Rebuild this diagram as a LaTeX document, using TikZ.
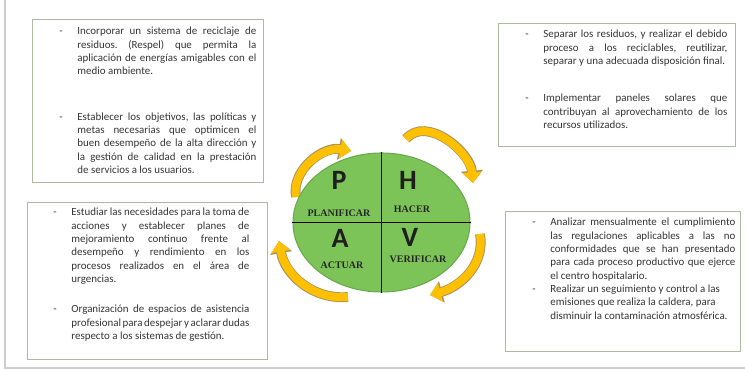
\documentclass[tikz,border=0pt]{standalone}
\usepackage{fontspec}
\setmainfont{Carlito}
\newfontfamily\labelfont{Liberation Serif}
\usepackage{tikz}
\usetikzlibrary{positioning}
\usetikzlibrary{arrows.meta}
\usetikzlibrary{shapes}
\definecolor{notegray}{RGB}{172,186,160}
\definecolor{notetext}{RGB}{52,52,52}
\definecolor{cyclefill}{RGB}{125,196,88}
\definecolor{cycleline}{RGB}{104,168,78}
\definecolor{arrowfill}{RGB}{255,192,0}
\definecolor{arrowline}{RGB}{168,148,96}
\definecolor{framegray}{RGB}{205,205,205}
\newcommand{\notedash}{\par\noindent\llap{-\hspace{11pt}}}
\tikzset{note box/.style={draw=notegray,line width=0.6pt,inner sep=0pt,anchor=north west,text=notetext,font=\fontsize{8.2pt}{10pt}\selectfont\frenchspacing},
pdca letter/.style={font=\bfseries\fontsize{21pt}{21pt}\selectfont,text=black!88,inner sep=0pt},
pdca label/.style={font=\labelfont\bfseries\fontsize{7.5pt}{8pt}\selectfont,text=black!85,inner sep=0pt},
cycle node/.style={ellipse,fill=cyclefill,draw=cycleline,line width=0.8pt,inner sep=0pt,minimum width=132.75pt,minimum height=104.25pt},
cycle arrow/.style={draw=arrowfill,line width=6pt,-{Triangle[length=8pt,width=14pt]},
  preaction={draw=arrowline,line width=7.4pt,-{Triangle[length=9.2pt,width=16pt]}}},
}

\begin{document}
\begin{tikzpicture}[x=0.75pt,y=0.75pt]
	\useasboundingbox (0,0) rectangle (745,370);
	\draw[framegray,line width=1pt] (5,370) -- (5,2) -- (745,2);

	% cuadros de acciones
	\node[note box] (plan) at (32,351) {\parbox[t][122.25pt][t]{173.25pt}{\hyphenpenalty=10000 \leftskip=33.75pt \rightskip=5.25pt
		\vspace*{6pt}
		\notedash Incorporar un sistema de reciclaje de\linebreak residuos. (Respel) que permita la\linebreak aplicación de energías amigables con el\linebreak medio ambiente.\par
		\vspace{24pt}
		\notedash Establecer los objetivos, las políticas y\linebreak metas necesarias que optimicen el\linebreak buen desempeño de la alta dirección y\linebreak la gestión de calidad en la prestación\linebreak de servicios a los usuarios.\par}};
	\node[note box] (do) at (498,347) {\parbox[t][92.25pt][t]{177.75pt}{\hyphenpenalty=10000 \leftskip=33.75pt \rightskip=6pt
		\vspace*{5.25pt}
		\notedash Separar los residuos, y realizar el debido\linebreak proceso a los reciclables, reutilizar,\linebreak separar y una adecuada disposición final.\par
		\vspace{18pt}
		\notedash Implementar paneles solares que\linebreak contribuyan al aprovechamiento de los\linebreak recursos utilizados.\par}};
	\node[note box] (act) at (27,168) {\parbox[t][117.75pt][t]{180pt}{\hyphenpenalty=10000 \leftskip=33pt \rightskip=13.5pt
		\vspace*{4.5pt}
		\notedash Estudiar las necesidades para la toma de\linebreak acciones y establecer planes de\linebreak mejoramiento continuo frente al\linebreak desempeño y rendimiento en los\linebreak procesos realizados en el área de\linebreak urgencias.\par
		\vspace{12.75pt}
		\notedash Organización de espacios de asistencia\linebreak profesional para despejar y aclarar dudas\linebreak respecto a los sistemas de gestión.\par}};
	\node[note box] (check) at (505,159) {\parbox[t][105pt][t]{176.25pt}{\hyphenpenalty=10000 \leftskip=33.75pt \rightskip=3.75pt
		\vspace*{5.25pt}
		\notedash Analizar mensualmente el cumplimiento\linebreak las regulaciones aplicables a las no\linebreak conformidades que se han presentado\linebreak para cada proceso productivo que ejerce\linebreak el centro hospitalario.\par
		\notedash Realizar un seguimiento y control a las\\ emisiones que realiza la caldera, para\\ disminuir la contaminación atmosférica.\par}};

	% flechas del ciclo
	\coordinate (p1) at (296,173);
	\coordinate (p2) at (351,219);
	\coordinate (h1) at (406,231);
	\coordinate (h2) at (473,187);
	\coordinate (v1) at (480,136);
	\coordinate (v2) at (430,75);
	\coordinate (a1) at (348,73);
	\coordinate (a2) at (279,129);
	\draw[cycle arrow] (p1) to[out=100,in=170] (p2);
	\draw[cycle arrow] (h1) to[out=50,in=95] (h2);
	\draw[cycle arrow] (v1) to[out=-80,in=15] (v2);
	\draw[cycle arrow] (a1) to[out=185,in=-80] (a2);

	% ciclo PHVA
	\node[cycle node] (cycle) at (381.5,147.5) {};
	\draw[black,line width=0.8pt] (cycle.north) -- (cycle.south);
	\draw[black,line width=0.8pt] (cycle.west) -- (cycle.east);

	\node[pdca letter] (P) at (339,190) {P};
	\node[pdca letter] (H) at (408,190) {H};
	\node[pdca letter] (A) at (340,132) {A};
	\node[pdca letter] (V) at (410,133) {V};

	\node[pdca label] (planificar) at (339,157) {PLANIFICAR};
	\node[pdca label] (hacer) at (412,161) {HACER};
	\node[pdca label] (actuar) at (342,105) {ACTUAR};
	\node[pdca label] (verificar) at (418,111) {VERIFICAR};
\end{tikzpicture}
\end{document}
